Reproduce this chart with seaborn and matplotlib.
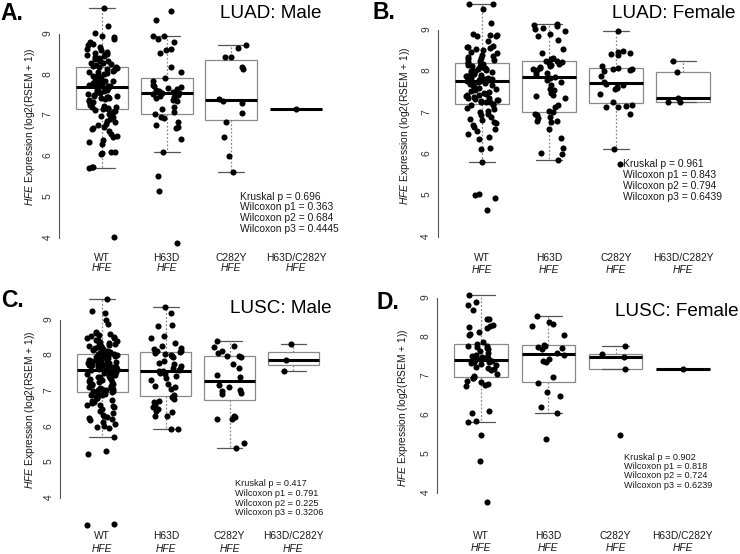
import numpy as np
import pandas as pd
import seaborn as sns
import matplotlib.pyplot as plt

groups = ["WT", "H63D", "C282Y", "H63D/C282Y"]

# A. LUAD male
luad_male_wt = [
    9.65, 9.20, 9.03, 8.96, 8.92, 8.88, 8.80, 8.76, 8.72, 8.68, 8.64, 8.60, 8.57, 8.54, 8.52,
    8.50, 8.48, 8.46, 8.43, 8.41, 8.38, 8.35, 8.33, 8.30, 8.28, 8.26, 8.24, 8.22, 8.20,
    8.18, 8.16, 8.14, 8.12, 8.10, 8.08, 8.06, 8.04, 8.02, 8.00, 7.98, 7.96, 7.94, 7.92, 7.90,
    7.88, 7.86, 7.85, 7.84, 7.82, 7.80, 7.79, 7.78, 7.77, 7.76, 7.75, 7.74, 7.73, 7.72,
    7.70, 7.68, 7.66, 7.64, 7.62, 7.60, 7.57, 7.55, 7.53, 7.51, 7.49, 7.47, 7.46, 7.45, 7.44,
    7.42, 7.40, 7.38, 7.36, 7.34, 7.32, 7.30, 7.27, 7.24, 7.22, 7.20, 7.18, 7.17, 7.16,
    7.14, 7.12, 7.08, 7.04, 7.00, 6.96, 6.92, 6.88, 6.84, 6.80, 6.76, 6.72, 6.70, 6.68, 6.62,
    6.55, 6.50, 6.47, 6.40, 6.36, 6.30, 6.12, 6.10, 6.08, 6.07, 5.75, 5.73, 5.72, 4.02]
luad_male_h63d = [
    9.57, 9.34, 8.96, 8.95, 8.88, 8.80, 8.63, 8.60, 8.53, 8.20, 8.08, 7.93, 7.85, 7.75, 7.72,
    7.70, 7.68, 7.65, 7.62, 7.60, 7.58, 7.56, 7.55, 7.52, 7.50, 7.48, 7.45, 7.42, 7.38, 7.35,
    7.20, 7.16, 7.08, 7.03, 6.96, 6.94, 6.85, 6.78, 6.73, 6.70, 6.42, 6.10, 5.52, 5.16, 3.88]
luad_male_c282y = [8.72, 8.67, 8.43, 8.43, 8.19, 8.14, 7.41, 7.36, 7.32, 7.06, 6.84, 6.48, 6.02, 5.62]
luad_male_both = [7.17]

# B. LUAD female
luad_female_wt = [
    9.64, 9.63, 9.50, 9.18, 8.90, 8.88, 8.87, 8.86, 8.85, 8.74, 8.62, 8.60, 8.58, 8.57, 8.55,
    8.52, 8.48, 8.44, 8.40, 8.38, 8.35, 8.32, 8.30, 8.27, 8.25, 8.23, 8.21,
    8.19, 8.16, 8.14, 8.12, 8.10, 8.09, 8.07, 8.05, 8.03, 8.02, 8.00, 7.98, 7.96, 7.94, 7.93,
    7.91, 7.90, 7.88, 7.86, 7.85, 7.83, 7.82, 7.81, 7.80, 7.79, 7.78, 7.77,
    7.75, 7.73, 7.70, 7.68, 7.66, 7.63, 7.60, 7.58, 7.55, 7.52, 7.50, 7.48, 7.46, 7.44, 7.42,
    7.40, 7.38, 7.36, 7.35, 7.33, 7.31, 7.30, 7.28, 7.27, 7.26, 7.25, 7.22,
    7.20, 7.18, 7.12, 7.08, 7.05, 7.02, 6.98, 6.95, 6.90, 6.86, 6.82, 6.78, 6.75, 6.70, 6.66,
    6.60, 6.55, 6.48, 6.42, 6.36, 6.15, 6.13, 5.82, 5.05, 5.01, 4.95, 4.66]
luad_female_h63d = [
    5.86, 6.00, 6.02, 6.14, 6.38, 6.62, 6.78, 6.80, 6.81, 6.87, 6.90, 6.95, 6.98, 7.01, 7.05,
    7.15, 7.18, 7.35, 7.40, 7.43, 7.47, 7.55, 7.57, 7.67, 7.75, 7.80, 7.84, 7.87,
    7.93, 7.95, 8.00, 8.03, 8.05, 8.08, 8.10, 8.12, 8.15, 8.18, 8.20, 8.22, 8.25, 8.26, 8.29,
    8.32, 8.44, 8.55, 8.76, 8.86, 8.90, 8.98, 9.02, 9.06, 9.10, 9.12, 9.14]
luad_female_c282y = [8.97, 8.50, 8.47, 8.45, 8.42, 8.40, 8.13, 8.08, 8.06, 8.05, 8.03, 8.02, 7.88, 7.74,
                     7.70, 7.66, 7.63, 7.61, 7.58, 7.45, 7.26, 7.20, 7.16, 7.15, 7.13, 6.96, 6.12, 5.77]
luad_female_both = [8.26, 7.99, 7.36, 7.26, 7.25]

# C. LUSC male
lusc_male_wt = [
    9.60, 9.24, 9.20, 9.01, 8.89, 8.66, 8.63, 8.60, 8.57, 8.55, 8.52, 8.50, 8.48, 8.45, 8.43,
    8.40, 8.38, 8.36, 8.34, 8.32, 8.30, 8.28, 8.26, 8.24, 8.22, 8.20, 8.18, 8.16, 8.15, 8.13,
    8.12, 8.10, 8.09, 8.08, 8.07,
    8.05, 8.04, 8.03, 8.01, 8.00, 7.98, 7.97, 7.95, 7.94, 7.92, 7.91, 7.90, 7.88, 7.87, 7.85,
    7.84, 7.82, 7.81, 7.80, 7.78, 7.77, 7.76, 7.74, 7.73, 7.72, 7.70, 7.69, 7.68, 7.67, 7.66,
    7.65, 7.64, 7.63, 7.62, 7.61,
    7.59, 7.57, 7.55, 7.53, 7.51, 7.49, 7.47, 7.45, 7.43, 7.41, 7.39, 7.37, 7.35, 7.33, 7.31,
    7.29, 7.27, 7.25, 7.23, 7.21, 7.19, 7.17, 7.15, 7.13, 7.12, 7.10, 7.08, 7.06, 7.05, 7.04,
    7.02, 7.01, 7.00, 6.99, 6.98,
    6.96, 6.94, 6.92, 6.90, 6.88, 6.85, 6.82, 6.80, 6.76, 6.73, 6.70, 6.66, 6.62, 6.60, 6.58,
    6.55, 6.50, 6.45, 6.40, 6.34, 6.30, 6.27, 6.26, 6.22, 6.18, 6.12, 6.07, 6.03, 6.00, 5.97,
    5.71, 5.31, 5.24, 3.26, 3.23]
lusc_male_h63d = [
    5.93, 5.94, 6.30, 6.30, 6.42, 6.43, 6.50, 6.55, 6.62, 6.70, 6.72, 6.78, 6.85, 6.88, 7.05,
    7.12, 7.15, 7.20, 7.30, 7.38, 7.42, 7.48, 7.52, 7.56, 7.57, 7.59, 7.62, 7.66, 7.70, 7.75,
    7.80, 7.85, 7.96, 7.98, 8.02, 8.05, 8.08, 8.10, 8.12, 8.14, 8.18, 8.20, 8.26, 8.35, 8.48,
    8.56, 8.82, 8.87, 9.20, 9.37]
lusc_male_c282y = [5.41, 5.54, 6.21, 6.22, 6.27, 6.30, 6.92, 6.94, 7.00, 7.04, 7.12, 7.18,
                   7.40, 7.44, 7.66, 7.76, 7.96, 7.98, 8.00, 8.06, 8.14, 8.23, 8.27, 8.41]
lusc_male_both = [7.58, 7.88, 8.33]

# D. LUSC female
lusc_female_wt = [
    3.77, 4.82, 5.50, 5.81, 5.84, 6.05, 6.10, 6.75, 6.78, 6.80, 6.85, 6.88, 6.94, 6.96, 6.97,
    7.00, 7.05, 7.15, 7.18, 7.20, 7.24, 7.28, 7.30, 7.33, 7.35, 7.37, 7.38, 7.40, 7.42, 7.44,
    7.46, 7.48, 7.50, 7.52, 7.55, 7.60, 7.64, 7.70, 7.72, 7.75, 7.76, 7.78, 7.82, 7.88, 8.05,
    8.08, 8.12, 8.24, 8.26, 8.28, 8.30, 8.45, 8.47, 8.68, 8.82, 8.90, 9.07]
lusc_female_h63d = [5.38, 6.04, 6.20, 6.50, 6.60, 6.82, 6.97, 7.36, 7.38, 7.44, 7.55, 7.59,
                    7.70, 7.72, 7.74, 7.78, 7.80, 8.04, 8.27, 8.34, 8.38, 8.55]
lusc_female_c282y = [5.49, 7.17, 7.50, 7.56, 7.78]
lusc_female_both = [7.18]

kruskal_p = [0.696, 0.961, 0.417, 0.902]
wilcoxon_p1 = [0.363, 0.843, 0.791, 0.818]
wilcoxon_p2 = [0.684, 0.794, 0.225, 0.724]
wilcoxon_p3 = [0.4445, 0.6439, 0.3206, 0.6239]

letters = ["A.", "B.", "C.", "D."]
titles = ["LUAD: Male", "LUAD: Female", "LUSC: Male", "LUSC: Female"]
panel_data = [
    [luad_male_wt, luad_male_h63d, luad_male_c282y, luad_male_both],
    [luad_female_wt, luad_female_h63d, luad_female_c282y, luad_female_both],
    [lusc_male_wt, lusc_male_h63d, lusc_male_c282y, lusc_male_both],
    [lusc_female_wt, lusc_female_h63d, lusc_female_c282y, lusc_female_both],
]

# layout, in pixels of the 740x554 figure
W, H = 740, 554
layout = [
    dict(box=(59.3, 1.4, 338.7, 252.3), ylim=(3.65, 9.8), ylab_x=37, letter=(0, 20), title=(220, 18),
         stats_x=240, stats_y=[197, 207.5, 218, 228.5], stats_size=7.4, pad=0.2, hfe=8.0),
    dict(box=(437.8, 0.2, 727.2, 251.5), ylim=(3.65, 9.72), ylab_x=412, letter=(373, 19), title=(612, 18),
         stats_x=623, stats_y=[164, 175, 185.7, 196.7], stats_size=7.4, pad=1.0, hfe=9.7),
    dict(box=(60, 289.7, 335.5, 530), ylim=(3.1, 9.85), ylab_x=37, letter=(1, 307), title=(230, 313),
         stats_x=235, stats_y=[484, 493.5, 503, 512.5], stats_size=6.6, pad=0.7, hfe=10.0),
    dict(box=(437, 288.25, 727, 528.1), ylim=(3.1, 9.25), ylab_x=410, letter=(377, 309), title=(615, 316),
         stats_x=624, stats_y=[457, 466.5, 476, 485.5], stats_size=6.6, pad=1.8, hfe=10.8),
]

sns.set_style("white")
plt.rcParams["font.family"] = ["Liberation Sans", "DejaVu Sans"]
plt.rcParams["mathtext.fontset"] = "custom"
plt.rcParams["mathtext.rm"] = "Liberation Sans"
plt.rcParams["mathtext.it"] = "Liberation Sans:italic"

np.random.seed(3)
fig = plt.figure(figsize=(7.4, 5.54), dpi=100)
fig.patch.set_facecolor("white")

grey = "#8a8a8a"
txt = "#1a1a1a"
small = 7.4

for i in range(4):
    lay = layout[i]
    l, t, r, b = lay["box"]
    ax = fig.add_axes([l / W, 1 - b / H, (r - l) / W, (b - t) / H])
    ax.set_facecolor("none")

    rows = []
    for g, vals in zip(groups, panel_data[i]):
        for v in vals:
            rows.append({"group": g, "value": v})
    df = pd.DataFrame(rows)

    sns.boxplot(data=df, x="group", y="value", order=groups, ax=ax, color="white",
                linecolor=grey, linewidth=0.9, width=0.8, showfliers=False,
                medianprops=dict(color="black", linewidth=2.2),
                whiskerprops=dict(color=grey, linewidth=0.9, linestyle=(0, (1.5, 1.5))),
                capprops=dict(color="#555555", linewidth=0.9))
    sns.stripplot(data=df, x="group", y="value", order=groups, ax=ax, color="black",
                  size=4.4, jitter=0.24, linewidth=0, zorder=3)

    ax.set_xlim(-0.66, 3.66)
    ax.set_ylim(*lay["ylim"])
    for s in ["top", "right", "bottom"]:
        ax.spines[s].set_visible(False)
    ax.spines["left"].set_bounds(4, 9)
    ax.spines["left"].set_color("#555555")
    ax.spines["left"].set_linewidth(0.8)

    ax.set_yticks([4, 5, 6, 7, 8, 9])
    ax.tick_params(axis="y", length=3.6, width=0.8, color="#555555", pad=1.2,
                   labelsize=small, labelcolor="#333333", labelrotation=90)
    ax.set_xticks(range(4))
    ax.set_xticklabels(groups)
    ax.tick_params(axis="x", length=0, pad=lay["pad"], labelsize=small, labelcolor=txt)
    ax.set_xlabel("")
    for k in range(4):
        ax.annotate("HFE", xy=(k, 0), xycoords=ax.get_xaxis_transform(), xytext=(0, -lay["hfe"]),
                    textcoords="offset points", ha="center", va="top", fontsize=small,
                    fontstyle="italic", color=txt)

    ax.set_ylabel(r"$\it{HFE}$ Expression (log2(RSEM + 1))", fontsize=small, color=txt)
    ax.yaxis.set_label_coords((lay["ylab_x"] - l) / (r - l), 0.5)

    lx, ly = lay["letter"]
    fig.text(lx / W, 1 - ly / H, letters[i], fontsize=16.5, fontweight="bold", ha="left",
             va="baseline", color="black")
    tx, ty = lay["title"]
    fig.text(tx / W, 1 - ty / H, titles[i], fontsize=13.6, ha="left", va="baseline", color="black")

    lines = [f"Kruskal p = {kruskal_p[i]}", f"Wilcoxon p1 = {wilcoxon_p1[i]}",
             f"Wilcoxon p2 = {wilcoxon_p2[i]}", f"Wilcoxon p3 = {wilcoxon_p3[i]}"]
    for line, yy in zip(lines, lay["stats_y"]):
        fig.text(lay["stats_x"] / W, 1 - yy / H, line, fontsize=lay["stats_size"], ha="left",
                 va="center", color=txt)

fig.savefig("out.png", dpi=100, facecolor="white")
